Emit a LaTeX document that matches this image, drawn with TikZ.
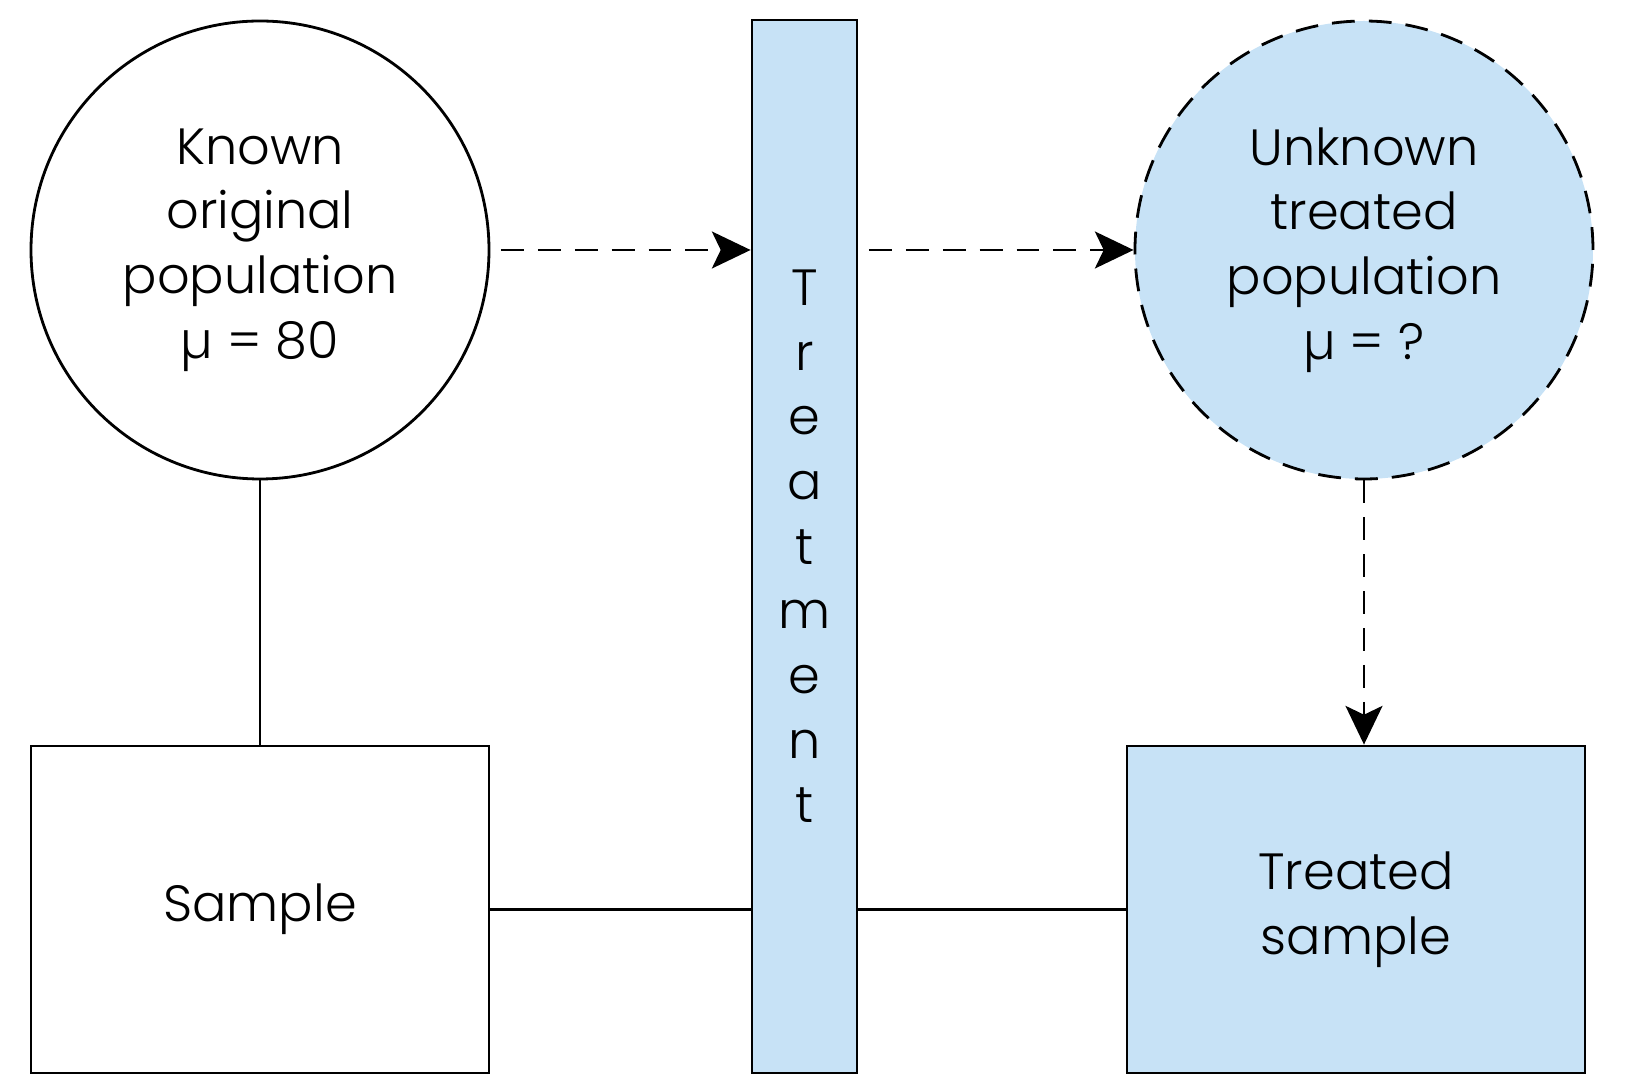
\documentclass[tikz,border=0pt]{standalone}
\usepackage{fontspec}
\setmainfont{Poppins}[UprightFont=* Light]
\usepackage{tikz}
\usetikzlibrary{shapes.geometric, arrows.meta, positioning}
\definecolor{treatblue}{RGB}{199,226,246}
\tikzstyle{population} = [circle, minimum size=4.58cm, align=center, draw=black, line width=0.8pt]
\tikzstyle{unknownpop} = [population, dashed, dash pattern=on 6.5pt off 4pt, fill=treatblue]
\tikzstyle{samplebox} = [rectangle, minimum width=4.58cm, minimum height=3.27cm, align=center, draw=black, line width=0.8pt]
\tikzstyle{treatbar} = [rectangle, minimum width=1.05cm, minimum height=10.53cm, align=center, draw=black, line width=0.8pt, fill=treatblue]
\tikzstyle{link} = [line width=0.8pt]
\tikzstyle{dasharrow} = [line width=0.8pt, dash pattern=on 6.5pt off 4pt, -{Stealth[length=11pt, width=10.5pt, inset=2.5pt]}]

\begin{document}
\begin{tikzpicture}[font=\fontsize{14.5}{18.4}\selectfont]
			
			\useasboundingbox (0,0) rectangle (16.44,-10.89);
			
			\node (known) [population] at (2.60,-2.50) {Known\\original\\population\\µ = 80};
			
			\node (treatment) [treatbar] at (8.045,-5.465) {T\\r\\e\\a\\t\\m\\e\\n\\t};
			
			\node (unknown) [unknownpop] at (13.64,-2.50) {Unknown\\treated\\population\\µ = ?};
			
			\node (sample) [samplebox] at (2.60,-9.095) {Sample};
			
			\node (treated) [samplebox, fill=treatblue] at (13.56,-9.095) {Treated\\sample};
			
			
			\draw [link] (known) -- (sample);
			\draw [link] (sample.east) -- (treatment.west |- sample.east);
			\draw [link] (treatment.east |- treated.west) -- (treated.west);
			\draw [dasharrow] ([xshift=3pt]known.east) -- (treatment.west |- known.east);
			\draw [dasharrow] ([xshift=3pt]treatment.east |- unknown.west) -- (unknown.west);
			\draw [dasharrow] (unknown.south) -- (unknown.south |- treated.north);
			
		\end{tikzpicture}
\end{document}
